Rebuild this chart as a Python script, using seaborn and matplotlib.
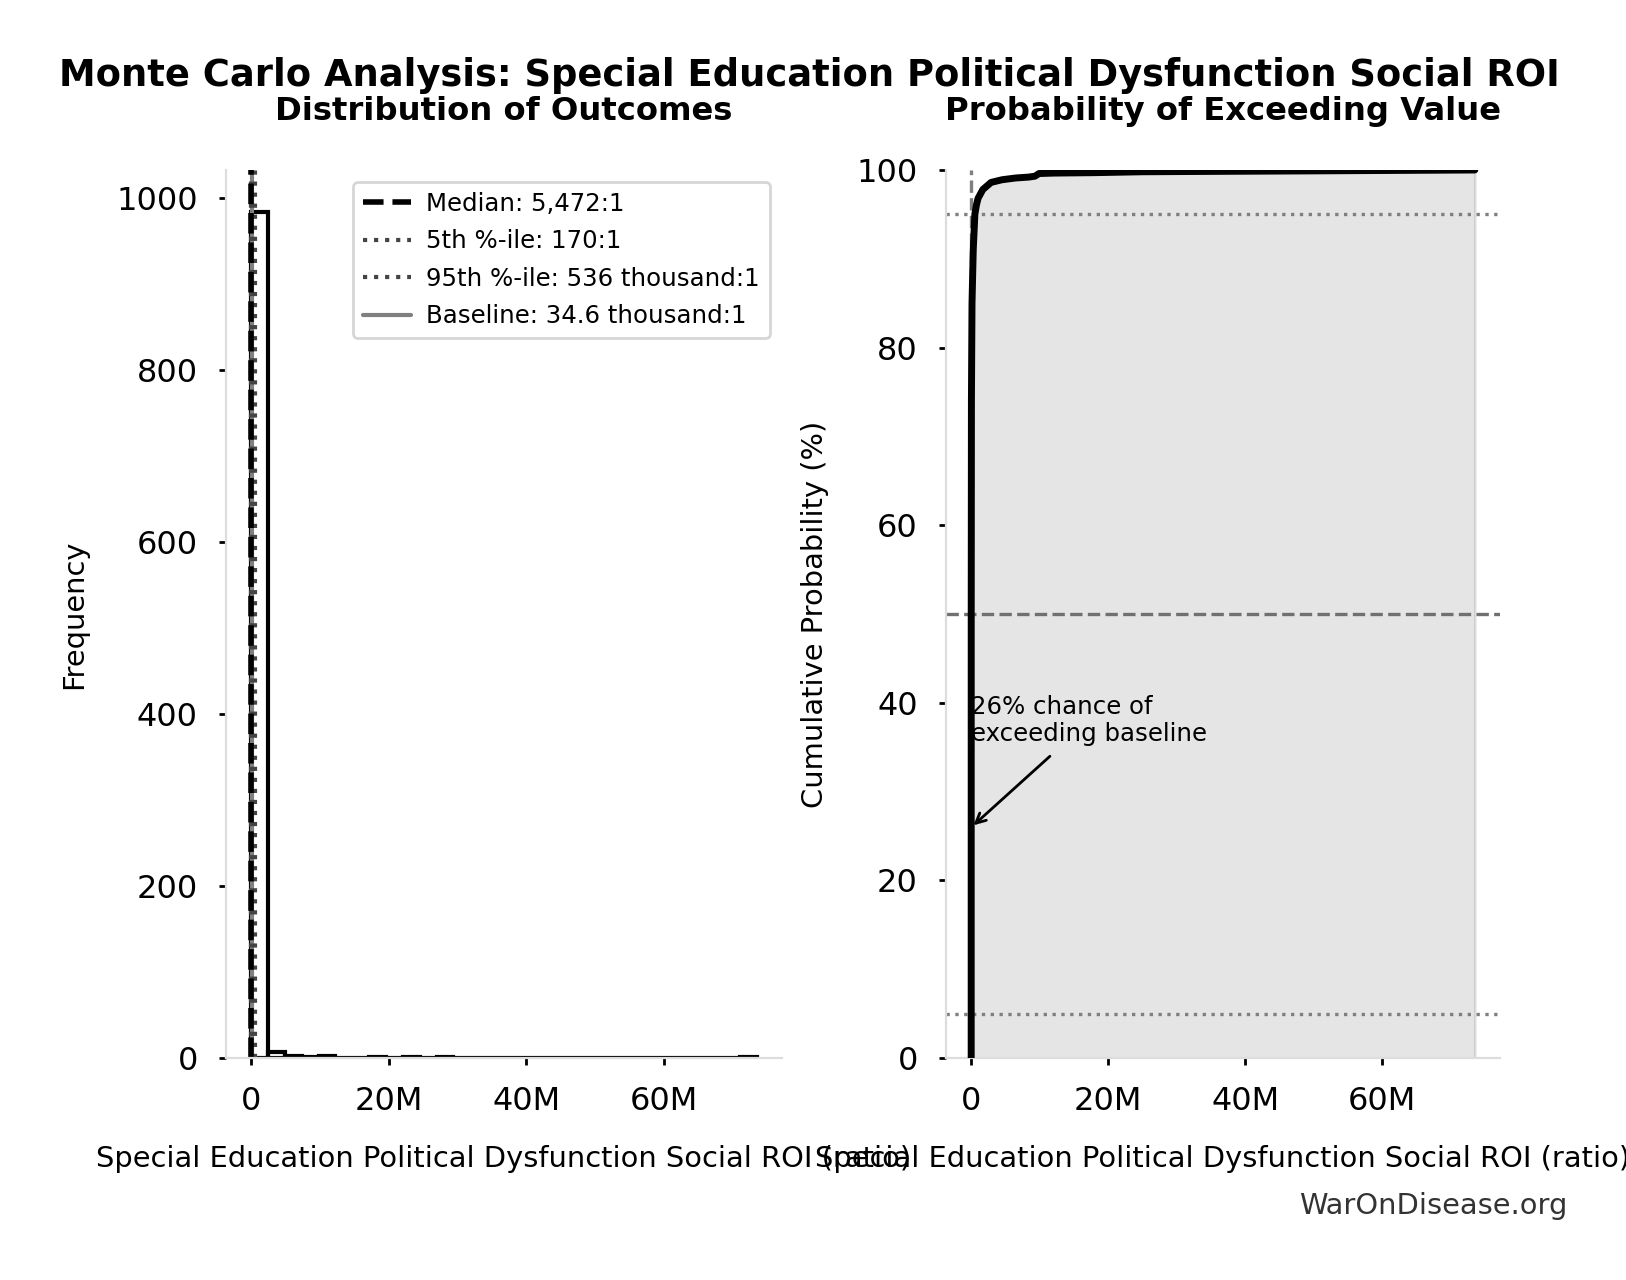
import numpy as np
import pandas as pd
import matplotlib
matplotlib.use("Agg")
import matplotlib.pyplot as plt
import seaborn as sns
from matplotlib.ticker import MultipleLocator, FuncFormatter
from matplotlib.lines import Line2D

# ---------------- data (values in millions of ratio units) ----------------
bin_lo, bin_hi, n_bins = 0.0, 73.5, 30
hist_counts = [983, 7, 2, 1, 2, 0, 0, 1, 0, 1, 0, 1, 0, 0, 0,
               0, 0, 0, 0, 0, 0, 0, 0, 0, 0, 0, 0, 0, 0, 1]

median_val = 0.005472
p5_val = 0.000170
p95_val = 0.536
baseline_val = 0.0346

cdf_x = [0.00017, 0.0008, 0.0055, 0.0346, 0.12, 0.3, 0.536, 0.75, 1.0, 1.7,
         2.9, 4.5, 6.5, 8.4, 9.3, 9.9, 12.0, 18.0, 25.0, 37.0, 50.0, 73.5]
cdf_p = [0.0, 5.0, 50.0, 74.0, 85.0, 91.0, 95.0, 96.0, 96.8, 97.8,
         98.6, 98.9, 99.1, 99.2, 99.3, 99.6, 99.65, 99.7, 99.8, 99.85, 99.9, 100.0]

title = "Monte Carlo Analysis: Special Education Political Dysfunction Social ROI"
sub_left = "Distribution of Outcomes"
sub_right = "Probability of Exceeding Value"
xlabel = "Special Education Political Dysfunction Social ROI (ratio)"
legend_labels = ["Median: 5,472:1", "5th %-ile: 170:1",
                 "95th %-ile: 536 thousand:1", "Baseline: 34.6 thousand:1"]
annot_text = "26% chance of\nexceeding baseline"
annot_prob = 26
watermark = "WarOnDisease.org"

# ---------------- style ----------------
sns.set_style("ticks")
plt.rcParams["font.family"] = ["DejaVu Sans"]
plt.rcParams["text.color"] = "black"
plt.rcParams["axes.labelcolor"] = "black"
plt.rcParams["axes.edgecolor"] = "#dddddd"
plt.rcParams["xtick.color"] = "black"
plt.rcParams["ytick.color"] = "black"

fig = plt.figure(figsize=(8.13, 6.4), dpi=200)
ax1 = fig.add_axes([0.139, 0.1734, 0.3418, 0.6938])
ax2 = fig.add_axes([0.5818, 0.1734, 0.3407, 0.6938])

edges = [float(e) for e in np.linspace(bin_lo, bin_hi, n_bins + 1)]
centers = [(edges[i] + edges[i + 1]) / 2 for i in range(n_bins)]
df = pd.DataFrame({"x": centers, "w": hist_counts})

sns.histplot(data=df, x="x", weights="w", bins=edges, element="bars",
             fill=False, color="black", linewidth=1.5, ax=ax1)

ax1.axvline(baseline_val, color="#808080", linestyle="-", linewidth=1.5)
ax1.axvline(p5_val, color="#444444", linestyle=":", linewidth=1.5)
ax1.axvline(p95_val, color="#444444", linestyle=":", linewidth=1.5)
ax1.axvline(median_val, color="black", linestyle="--", linewidth=2)

span = bin_hi - bin_lo
ax1.set_xlim(bin_lo - 0.05 * span, bin_hi + 0.05 * span)
ax1.set_ylim(0, max(hist_counts) * 1.05)

handles = [Line2D([], [], color="black", linestyle="--", linewidth=2),
           Line2D([], [], color="#444444", linestyle=":", linewidth=1.5),
           Line2D([], [], color="#444444", linestyle=":", linewidth=1.5),
           Line2D([], [], color="#808080", linestyle="-", linewidth=1.5)]
leg = ax1.legend(handles, legend_labels, loc="upper right", fontsize=8.8,
                 frameon=True, fancybox=True, handletextpad=0.6,
                 labelspacing=0.55)
leg.get_frame().set_edgecolor("#cccccc")

# CDF panel
ax2.fill_between(cdf_x, 0, cdf_p, color="black", alpha=0.1)
ax2.axhline(95, color="gray", linestyle=":", linewidth=1.2)
ax2.axhline(5, color="gray", linestyle=":", linewidth=1.2)
ax2.axhline(50, color="#707070", linestyle="--", linewidth=1.2)
ax2.axvline(baseline_val, color="gray", linestyle="--", linewidth=1.2)
sns.lineplot(x=cdf_x, y=cdf_p, color="black", linewidth=2.5, ax=ax2, zorder=5)
ax2.set_xlim(bin_lo - 0.05 * span, bin_hi + 0.05 * span)
ax2.set_ylim(0, 100)
ax2.annotate(annot_text, xy=(baseline_val, annot_prob), xytext=(baseline_val, 38),
             fontsize=8.8, ha="left", va="center",
             arrowprops=dict(arrowstyle="->", color="black", lw=1, shrinkB=1))

fmt = FuncFormatter(lambda v, p: "0" if abs(v) < 1e-9 else f"{v:.0f}M")
for ax in (ax1, ax2):
    ax.xaxis.set_major_locator(MultipleLocator(20))
    ax.xaxis.set_major_formatter(fmt)
    ax.tick_params(labelsize=11.5, length=2.6, width=1, pad=7.5)
    for s in ("top", "right"):
        ax.spines[s].set_visible(False)
    for s in ("left", "bottom"):
        ax.spines[s].set_color("#dddddd")
    ax.set_xlabel(xlabel, fontsize=10.4, labelpad=10)

ax1.set_ylabel("Frequency", fontsize=10.4, labelpad=10)
ax2.set_ylabel("Cumulative Probability (%)", fontsize=10.4, labelpad=10)
ax1.set_title(sub_left, fontsize=11.6, fontweight="bold", pad=18)
ax2.set_title(sub_right, fontsize=11.6, fontweight="bold", pad=18)
fig.suptitle(title, fontsize=13.3, fontweight="bold", x=0.498, y=0.9555)
fig.text(0.964, 0.058, watermark, fontsize=10.4, color="#333333", ha="right", va="center")

fig.savefig("out.png", dpi=200)
